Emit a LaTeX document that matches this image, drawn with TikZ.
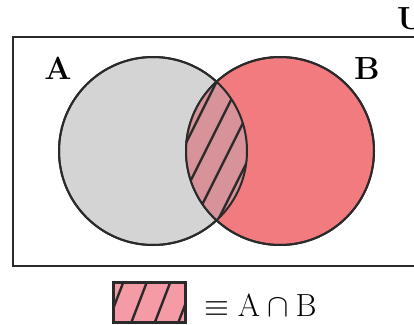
\RequirePackage{fix-cm}
\documentclass[tikz,border=0pt]{standalone}
\usetikzlibrary{positioning}
\definecolor{setgray}{HTML}{D4D4D4}
\definecolor{setpink}{HTML}{F27B80}
\definecolor{lenspink}{HTML}{D8929A}
\definecolor{keypink}{HTML}{F59BA5}
\definecolor{inkgray}{HTML}{2A2A2A}
\tikzset{
  setcircle/.style={circle, minimum size=188, inner sep=0pt, draw=inkgray, line width=2pt},
  outline/.style={draw=inkgray, line width=2pt},
  hatch/.style={draw=inkgray, line width=2.4pt},
  setlabel/.style={inner sep=0pt, anchor=base, font=\fontsize{32}{36}\selectfont\bfseries},
  keytext/.style={inner sep=0pt, anchor=base west, font=\fontsize{32}{38}\selectfont}
}
\begin{document}
\begin{tikzpicture}[x=1pt, y=-1pt]
\useasboundingbox (0,0) rectangle (414,324);
\clip (0,0) rectangle (414,324);
% universe
\draw[inkgray, line width=2.5pt] (13,37) rectangle (440,266);
\node[setlabel, anchor=base west] (labU) at (397,29) {U};
% the two sets
\node[setcircle, fill=setgray] (setA) at (153,151) {};
\node[setcircle, fill=setpink] (setB) at (280,151) {};
\begin{scope}
  \clip (setA.center) circle[radius=94];
  \clip (setB.center) circle[radius=94];
  \fill[lenspink] (setB.center) circle[radius=94];
  \foreach \x in {162.5,186,209.5,233,256.5,280}
    \draw[hatch] (\x-60,263) -- (\x+60,23);
\end{scope}
\draw[outline] (setA.center) circle[radius=94];
\draw[outline] (setB.center) circle[radius=94];
\node[setlabel] (labA) at (58,79) {A};
\node[setlabel] (labB) at (367,79) {B};
% key
\node[draw=inkgray, line width=2pt, fill=keypink, minimum width=71, minimum height=39, inner sep=0pt] (keybox) at (149.5,302.5) {};
\begin{scope}
  \clip (keybox.south west) rectangle (keybox.north east);
  \foreach \x in {99.5,123,146.5,170,193.5}
    \draw[hatch] (\x-15,322) -- (\x,283);
\end{scope}
\draw[outline] (keybox.south west) rectangle (keybox.north east);
\node[keytext] (keylabel) at (204,316) {$\equiv \mathrm{A} \cap \mathrm{B}$};
\end{tikzpicture}
\end{document}
